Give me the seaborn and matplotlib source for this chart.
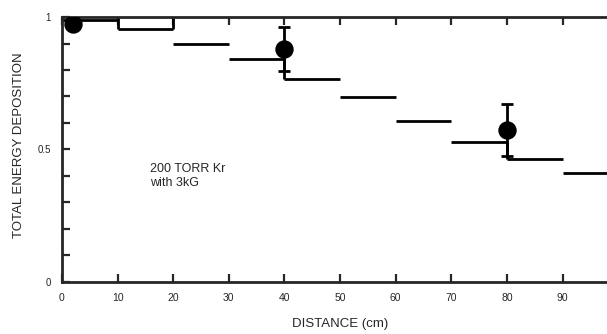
import numpy as np
import matplotlib
matplotlib.use("Agg")
import matplotlib.pyplot as plt
import seaborn as sns

# Step histogram (calculated energy deposition per 10 cm bin)
bin_left = [0, 10, 20, 30, 40, 50, 60, 70, 80, 90]
bin_right = [10, 20, 30, 40, 50, 60, 70, 80, 90, 100]
step_values = [0.99, 0.955, 0.90, 0.842, 0.766, 0.698, 0.608, 0.528, 0.464, 0.411]

# Measured points with error bars
meas_x = [2, 40, 80]
meas_y = [0.972, 0.879, 0.572]
meas_err = [0.0, 0.083, 0.098]

x_ticks = [0, 10, 20, 30, 40, 50, 60, 70, 80, 90]
y_ticks = [0, 0.1, 0.2, 0.3, 0.4, 0.5, 0.6, 0.7, 0.8, 0.9, 1.0]
y_tick_labels = ["0", "", "", "", "", "0.5", "", "", "", "", "1"]

sns.set_style("ticks")
plt.rcParams["font.family"] = ["Liberation Sans", "DejaVu Sans"]

fig = plt.figure(figsize=(6.07, 3.34), dpi=100)
ax = fig.add_axes([0.102, 0.156, 0.898, 0.793])

# histogram segments
ax.hlines(step_values, bin_left, bin_right, colors="black", linewidth=2.0)
ax.vlines([10, 20], step_values[1], 1.0, colors="black", linewidth=2.0)
ax.vlines([40], step_values[3], step_values[4], colors="black", linewidth=2.0)
ax.vlines([80], step_values[7], step_values[8], colors="black", linewidth=2.0)

# measurements
ax.errorbar(meas_x[1:], meas_y[1:], yerr=meas_err[1:], fmt="none",
            ecolor="black", elinewidth=2.0, capsize=4, capthick=2.0)
sns.scatterplot(x=meas_x, y=meas_y, ax=ax, color="black", s=150,
                edgecolor="black", zorder=5, legend=False)

ax.text(15.8, 0.45, "200 TORR Kr\nwith 3kG", fontsize=9, va="top",
        ha="left", linespacing=1.2)

ax.set_xlim(0, 98)
ax.set_ylim(0, 1)
ax.set_xticks(x_ticks)
ax.set_xticklabels([str(t) for t in x_ticks], fontsize=7.5)
ax.set_yticks(y_ticks)
ax.set_yticklabels(y_tick_labels, fontsize=7)
ax.tick_params(axis="both", direction="in", length=6, width=1.6, pad=8,
               top=True, right=False)

for side in ["left", "top", "bottom"]:
    ax.spines[side].set_linewidth(2.0)
ax.spines["right"].set_visible(False)

ax.set_xlabel("DISTANCE (cm)", fontsize=9.5)
ax.set_ylabel("TOTAL ENERGY DEPOSITION", fontsize=9.5)
ax.xaxis.set_label_coords(0.51, -0.135)
ax.yaxis.set_label_coords(-0.068, 0.515)

fig.savefig("out.png", dpi=100)
